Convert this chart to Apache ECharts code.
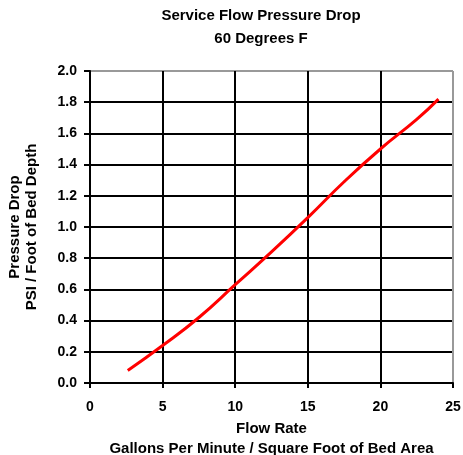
<!DOCTYPE html>
<html>
<head>
<meta charset="utf-8">
<script src="https://cdn.jsdelivr.net/npm/echarts@6/dist/echarts.min.js"></script>
<style>html,body{margin:0;padding:0;background:#fff}#c{width:463px;height:455px}</style>
</head>
<body>
<div id="c"></div>
<script>
var flowRate = [2.6, 5, 7.5, 10, 12.5, 15, 17.5, 20, 22.5, 24];
var pressureDrop = [0.08, 0.24, 0.42, 0.63, 0.84, 1.06, 1.29, 1.50, 1.69, 1.82];
var titleLines = ['Service Flow Pressure Drop', '60 Degrees F'];
var xName = 'Flow Rate\nGallons Per Minute / Square Foot of Bed Area';
var yName = 'Pressure Drop\nPSI / Foot of Bed Depth';

var FONT = '"Liberation Sans", Arial, sans-serif';
var chart = echarts.init(document.getElementById('c'), null, {renderer: 'canvas'});
var xSplit = ['#000','#000','#000','#000','#000','#999'];
var ySplit = ['#000','#000','#000','#000','#000','#000','#000','#000','#000','#000','#999'];
chart.setOption({
  animation: false,
  backgroundColor: '#fff',
  graphic: [
    {type: 'text', x: 261, y: 8, style: {text: titleLines[0], font: 'bold 15px ' + FONT, fill: '#000', textAlign: 'center'}},
    {type: 'text', x: 261, y: 31, style: {text: titleLines[1], font: 'bold 15px ' + FONT, fill: '#000', textAlign: 'center'}}
  ],
  grid: {left: 90, right: 10, top: 71, bottom: 72, containLabel: false, outerBoundsMode: 'none'},
  xAxis: {
    type: 'value', min: 0, max: 25, interval: 5,
    name: xName, nameLocation: 'middle', nameGap: 30,
    nameTextStyle: {fontFamily: FONT, fontWeight: 'bold', fontSize: 15, color: '#000', lineHeight: 20},
    axisLine: {show: true, onZero: false, lineStyle: {color: '#000', width: 2}},
    axisTick: {show: true, length: 5, lineStyle: {color: '#000', width: 2}},
    axisLabel: {fontFamily: FONT, fontWeight: 'bold', fontSize: 14, color: '#000', margin: 17},
    splitLine: {show: true, lineStyle: {color: xSplit, width: 2}}
  },
  yAxis: {
    type: 'value', min: 0, max: 2, interval: 0.2,
    name: yName, nameLocation: 'middle', nameGap: 50, nameRotate: 90,
    nameTextStyle: {fontFamily: FONT, fontWeight: 'bold', fontSize: 15, color: '#000', lineHeight: 17},
    axisLine: {show: true, lineStyle: {color: '#000', width: 2}},
    axisTick: {show: true, length: 6, lineStyle: {color: '#000', width: 2}},
    axisLabel: {fontFamily: FONT, fontWeight: 'bold', fontSize: 14, color: '#000', margin: 13,
      formatter: function (v) { return v.toFixed(1); }},
    splitLine: {show: true, lineStyle: {color: ySplit, width: 2}}
  },
  series: [{
    type: 'line', data: flowRate.map(function (x, i) { return [x, pressureDrop[i]]; }),
    smooth: 0.5, showSymbol: false, symbol: 'none',
    lineStyle: {color: '#ff0000', width: 3}
  }]
});
</script>
</body>
</html>
